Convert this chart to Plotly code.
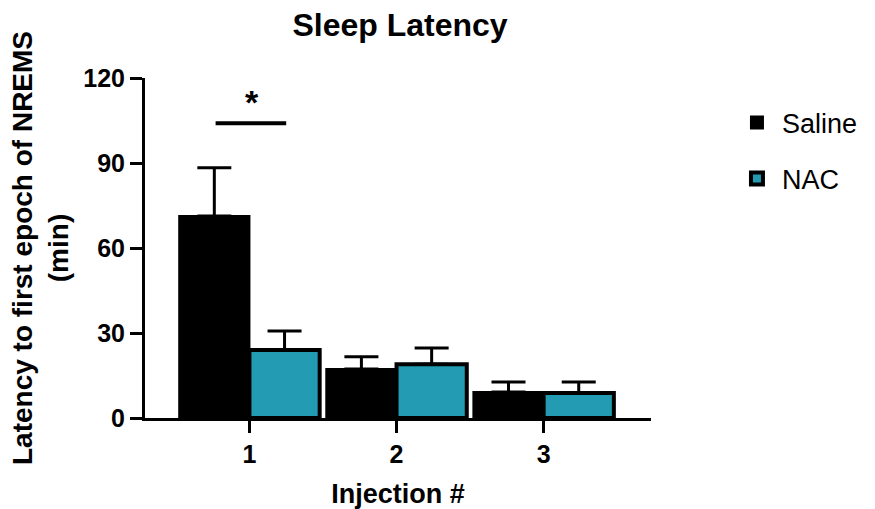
import plotly.graph_objects as go

categories = ["1", "2", "3"]
saline = [71.3, 17.3, 9.2]
saline_err = [17.0, 4.3, 3.5]
nac = [24.0, 19.0, 8.8]
nac_err = [6.7, 5.7, 3.9]
y_ticks = [0, 30, 60, 90, 120]

FONT = "Liberation Sans, Arial, sans-serif"
TEAL = "#229bb3"

fig = go.Figure()
fig.add_trace(go.Bar(
    x=categories, y=saline, name="Saline", legendgroup="saline",
    marker=dict(color="black", line=dict(color="black", width=2)),
    error_y=dict(type="data", array=saline_err, arrayminus=[0]*3, symmetric=False,
                 color="black", thickness=3, width=17),
))
fig.add_trace(go.Bar(
    x=categories, y=nac, name="NAC", legendgroup="nac",
    marker=dict(color=TEAL, line=dict(color="black", width=4)),
    error_y=dict(type="data", array=nac_err, arrayminus=[0]*3, symmetric=False,
                 color="black", thickness=3, width=17),
))

# significance marker
fig.add_shape(type="line", xref="x", yref="y", x0=-0.23, x1=0.25, y0=104, y1=104,
              line=dict(color="black", width=4))
fig.add_annotation(x=0.02, y=104, xref="x", yref="y", text="*", showarrow=False,
                   yanchor="bottom", yshift=0,
                   font=dict(size=34, family=FONT, color="black", weight="bold"))

axis_font = dict(size=25, family=FONT, color="black", weight="bold")
title_font = dict(size=27, family=FONT, color="black", weight="bold")

fig.update_layout(
    width=875, height=509,
    margin=dict(l=145, r=220, t=78, b=91),
    paper_bgcolor="white", plot_bgcolor="white",
    barmode="group", bargap=0.045, bargroupgap=0,
    title=dict(text="Sleep Latency", x=400/875, xanchor="center", y=0.952, yanchor="middle",
               font=dict(size=32, family=FONT, color="black", weight="bold")),
    font=dict(family=FONT, color="black"),
    showlegend=True,
    legend=dict(x=1.16, xanchor="left", xref="paper", y=0.94, yanchor="top",
                font=dict(size=27, family=FONT, color="black"), tracegroupgap=18,
                itemwidth=40, bgcolor="rgba(0,0,0,0)"),
    xaxis=dict(type="category", range=[-0.71, 2.73], showline=True, linecolor="black", linewidth=3,
               ticks="outside", ticklen=12, tickwidth=3, tickcolor="black",
               tickfont=axis_font, automargin=False,
               title=dict(text="Injection #", font=title_font, standoff=22),
               showgrid=False, zeroline=False),
    yaxis=dict(range=[0, 120], tickvals=y_ticks, showline=True, linecolor="black", linewidth=3,
               ticks="outside", ticklen=12, tickwidth=3, tickcolor="black",
               tickfont=axis_font, automargin=False,
               title=dict(text="Latency to first epoch of NREMS<br>(min)",
                          font=dict(size=28, family=FONT, color="black", weight="bold"), standoff=7),
               showgrid=False, zeroline=False),
)

fig.write_html("out.html")
